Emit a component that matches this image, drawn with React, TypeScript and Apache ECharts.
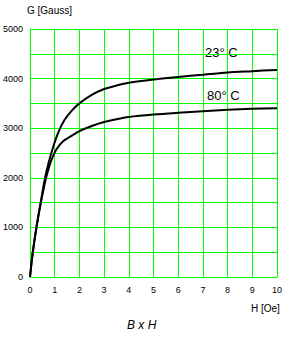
import React, { useEffect, useRef } from "react";
import * as echarts from "echarts";

const xTicks = [0, 1, 2, 3, 4, 5, 6, 7, 8, 9, 10];
const yTicks = [0, 1000, 2000, 3000, 4000, 5000];

const curve23H = [0, 0.1, 0.26, 0.43, 0.61, 0.75, 0.95, 1.15, 1.4, 1.7, 2, 2.5, 3, 3.5, 4, 5, 6, 7, 8, 9, 10];
const curve23G = [0, 450, 1000, 1500, 2000, 2300, 2640, 2920, 3170, 3360, 3500, 3670, 3790, 3860, 3915, 3980, 4030, 4080, 4125, 4150, 4175];

const curve80H = [0, 0.1, 0.26, 0.44, 0.64, 0.78, 0.9, 1.08, 1.35, 1.7, 2, 2.5, 3, 3.5, 4, 5, 6, 7, 8, 9, 10];
const curve80G = [0, 450, 1000, 1500, 1980, 2230, 2400, 2580, 2740, 2850, 2940, 3045, 3125, 3182, 3226, 3275, 3310, 3340, 3370, 3390, 3400];

const seriesNames = ["23° C", "80° C"];

const FONT = "Liberation Sans, Arial, sans-serif";

export default function App() {
  const ref = useRef<HTMLDivElement>(null);
  useEffect(() => {
    if (!ref.current) return;
    const chart = echarts.init(ref.current, undefined, { renderer: "svg" });
    const green = "#00ff00";
    chart.setOption({
      animation: false,
      backgroundColor: "#ffffff",
      grid: { left: 29, top: 29, width: 248, height: 248, show: false },
      xAxis: {
        type: "value",
        min: xTicks[0],
        max: xTicks[xTicks.length - 1],
        interval: 1,
        axisLine: { show: true, lineStyle: { color: green, width: 1 } },
        axisTick: { show: false },
        splitLine: { show: true, lineStyle: { color: green, width: 1 } },
        axisLabel: { color: "#000", fontSize: 9, fontFamily: FONT, margin: 8 },
      },
      yAxis: {
        type: "value",
        min: 0,
        max: yTicks[yTicks.length - 1],
        interval: 500,
        axisLine: { show: true, lineStyle: { color: green, width: 1 } },
        axisTick: { show: false },
        splitLine: { show: true, lineStyle: { color: green, width: 1 } },
        axisLabel: {
          color: "#000",
          fontSize: 9,
          fontFamily: FONT,
          margin: 7,
          formatter: (v: number) => (yTicks.includes(v) ? String(v) : ""),
        },
      },
      series: [
        {
          name: seriesNames[0],
          type: "line",
          smooth: 0.3,
          showSymbol: false,
          data: curve23H.map((h, i) => [h, curve23G[i]]),
          lineStyle: { color: "#000", width: 2 },
        },
        {
          name: seriesNames[1],
          type: "line",
          smooth: 0.3,
          showSymbol: false,
          data: curve80H.map((h, i) => [h, curve80G[i]]),
          lineStyle: { color: "#000", width: 2 },
        },
      ],
      graphic: [
        { type: "text", left: 27, top: 5, style: { text: "G [Gauss]", fontSize: 10, fontFamily: FONT, fill: "#000" } },
        { type: "text", left: 251, top: 303, style: { text: "H [Oe]", fontSize: 10, fontFamily: FONT, fill: "#000" } },
        { type: "text", left: 127, top: 319, style: { text: "B x H", fontSize: 12, fontStyle: "italic", fontFamily: FONT, fill: "#000" } },
        { type: "text", left: 205, top: 46, style: { text: seriesNames[0], fontSize: 13, fontFamily: FONT, fill: "#000" } },
        { type: "text", left: 207, top: 89, style: { text: seriesNames[1], fontSize: 13, fontFamily: FONT, fill: "#000" } },
      ],
    });
    return () => chart.dispose();
  }, []);
  return <div ref={ref} style={{ width: 294, height: 355, position: "absolute", left: 0, top: 0 }} />;
}
